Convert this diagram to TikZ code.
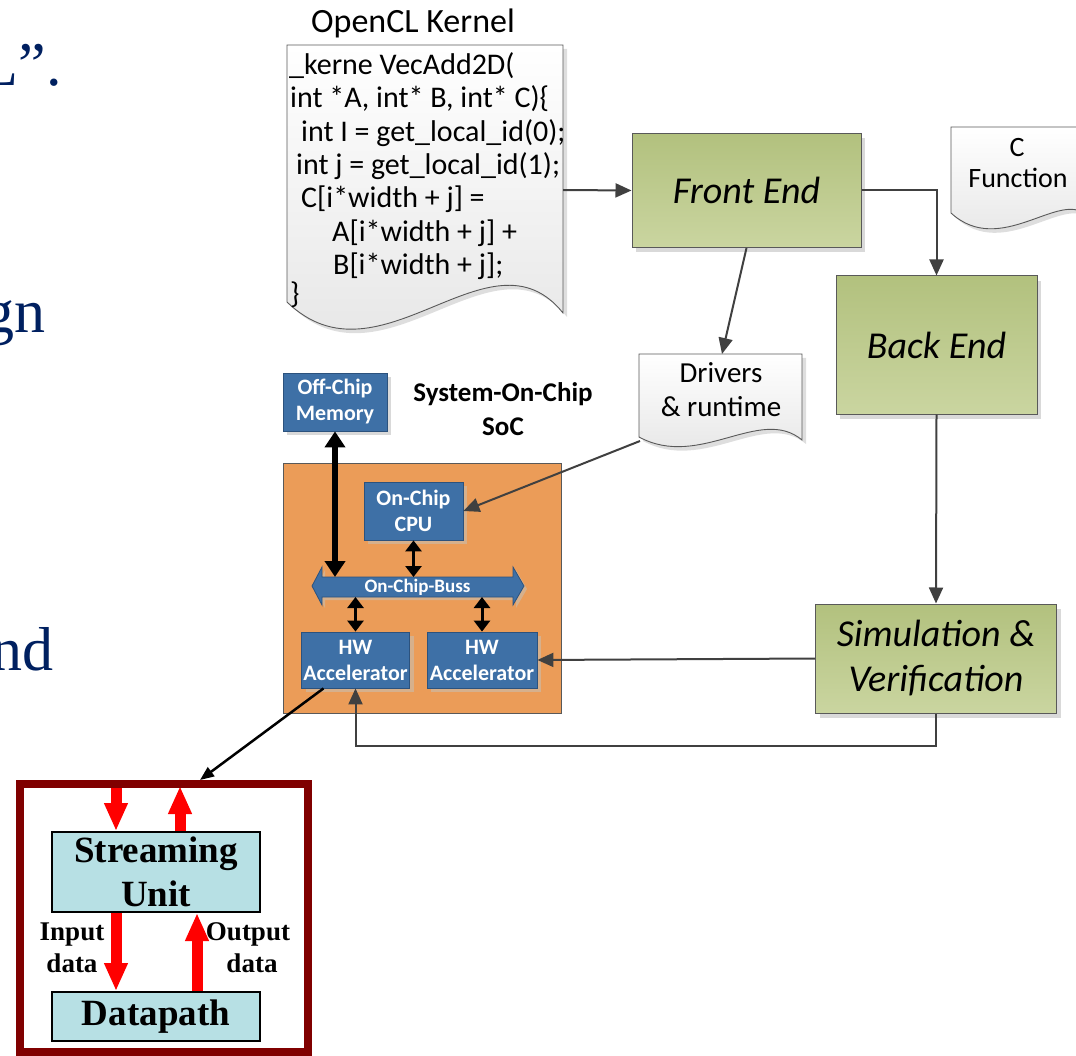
\documentclass[tikz,border=0pt]{standalone}
\usepackage{fontspec}
\setmainfont{Carlito}
\newfontfamily\tnr{Liberation Serif}
\usetikzlibrary{arrows.meta,shadows,calc}

\definecolor{navy}{RGB}{0,32,96}
\definecolor{lgray}{RGB}{64,64,64}
\definecolor{boxgray}{RGB}{89,89,89}
\definecolor{greenT}{RGB}{178,193,126}
\definecolor{greenB}{RGB}{202,213,160}
\definecolor{socorange}{RGB}{235,156,88}
\definecolor{chipblue}{RGB}{62,112,166}
\definecolor{chipedge}{RGB}{44,82,125}
\definecolor{tanshade}{RGB}{214,176,140}
\definecolor{lightcyan}{RGB}{183,224,228}
\definecolor{darkred}{RGB}{128,0,0}

\begin{document}
\begin{tikzpicture}[x=1pt,y=-1pt,
  slidetext/.style={anchor=base east, inner sep=0pt, text=navy, font=\tnr\fontsize{62}{70}\selectfont},
  codeline/.style={anchor=base west, inner sep=0pt, font=\fontsize{30}{33}\selectfont},
  doctext/.style={anchor=base, inner sep=0pt, font=\fontsize{29}{35}\selectfont},
  docbody/.style={draw=boxgray, line width=0.9pt, top color=white, bottom color=black!11},
  docshadow/.style={fill=black!13},
  greenbox/.style={draw=boxgray, line width=1pt, top color=greenT, bottom color=greenB,
    inner sep=0pt, align=center, font=\itshape\fontsize{38}{45}\selectfont,
    drop shadow={shadow xshift=4pt, shadow yshift=-5pt, fill=black!15, opacity=1}},
  chipbox/.style={draw=chipedge, line width=0.8pt, fill=chipblue, text=white,
    inner sep=0pt, align=center, font=\bfseries\fontsize{22}{26}\selectfont,
    drop shadow={shadow xshift=4pt, shadow yshift=-4pt, fill=tanshade, opacity=1}},
  unitbox/.style={draw=black, line width=2pt, fill=lightcyan, inner sep=0pt, align=center,
    font=\tnr\bfseries\fontsize{37}{44}\selectfont},
  flow/.style={draw=lgray, line width=2pt, -{Triangle[length=16pt,width=14pt]}},
  membus/.style={draw=black, line width=6pt, {Triangle[length=16pt,width=20pt]}-{Triangle[length=16pt,width=20pt]}},
  busarrow/.style={draw=black, line width=3pt, {Triangle[length=11pt,width=16pt]}-{Triangle[length=11pt,width=16pt]}},
  streamarrow/.style={draw=red, line width=11pt, -{Triangle[length=28pt,width=22pt]}},
  portarrow/.style={draw=black, line width=2.5pt, -{Triangle[length=14pt,width=11pt]}},
  datalabel/.style={anchor=base, inner sep=0pt, font=\tnr\bfseries\fontsize{27}{31}\selectfont}]

\useasboundingbox (0,0) rectangle (1076,1056);

% ---- fragments of slide text at the left edge
\node[slidetext] (slideA) at (62,86) {L”.};
\node[slidetext] (slideB) at (46,333) {gn};
\node[slidetext] (slideC) at (54,670) {nd};

% ---- OpenCL kernel document
\node[anchor=base, inner sep=0pt, font=\fontsize{34}{40}\selectfont] (kerneltitle) at (413,33) {OpenCL Kernel};
\path[docshadow] (291,49) -- (567,49) -- (567,317) .. controls (494,226) and (384,396) .. (291,306) -- cycle;
\path[docbody] (287,45) -- (563,45) -- (563,313) .. controls (490,222) and (380,392) .. (287,302) -- cycle;
\node[codeline] (k1) at (289,75) {\_kerne VecAdd2D(};
\node[codeline] (k2) at (290,108) {int *A, int* B, int* C)\{};
\node[codeline] (k3) at (301,141.5) {int I = get\_local\_id(0);};
\node[codeline] (k4) at (296,175) {int j = get\_local\_id(1);};
\node[codeline] (k5) at (301,208) {C[i*width + j] =};
\node[codeline] (k6) at (332,241.5) {A[i*width + j] +};
\node[codeline] (k7) at (333,275) {B[i*width + j];};
\node[codeline] (k8) at (290,304) {\}};
\coordinate (kernelE) at (563,190);

% ---- C function document (runs past the right edge)
\path[docshadow] (955,131) -- (1090,131) -- (1090,219) .. controls (1064,194) and (1004,262) .. (955,217) -- cycle;
\path[docbody] (951,127) -- (1086,127) -- (1086,215) .. controls (1060,190) and (1000,258) .. (951,213) -- cycle;
\node[doctext, font=\fontsize{28}{34}\selectfont] (cfunA) at (1017,157) {C};
\node[doctext, font=\fontsize{28}{34}\selectfont] (cfunB) at (1018,188) {Function};

% ---- drivers document
\path[docshadow] (643,358) -- (806,358) -- (806,444) .. controls (764,409) and (704,474) .. (643,441) -- cycle;
\path[docbody] (639,354) -- (802,354) -- (802,440) .. controls (760,405) and (700,470) .. (639,437) -- cycle;
\node[doctext] (drvA) at (721,382) {Drivers};
\node[doctext] (drvB) at (721,417) {\& runtime};
\coordinate (drvN) at (722,354);
\coordinate (drvSW) at (640,441);

% ---- tool-flow stages
\node[greenbox, minimum width=229pt, minimum height=114pt] (fe) at (746.5,190.5) {Front End};
\node[greenbox, minimum width=201pt, minimum height=138pt] (be) at (936.5,345) {Back End};
\node[greenbox, minimum width=241pt, minimum height=109pt] (sim) at (936,658.5) {Simulation \&\\Verification};

% ---- system on chip
\node[anchor=base, inner sep=0pt, font=\bfseries\fontsize{27}{32}\selectfont] (socA) at (503,402) {System-On-Chip};
\node[anchor=base, inner sep=0pt, font=\bfseries\fontsize{27}{32}\selectfont] (socB) at (503,435) {SoC};
\node[draw=boxgray, line width=0.9pt, fill=socorange, minimum width=278pt, minimum height=250pt, inner sep=0pt] (soc) at (422,588) {};

\node[chipbox, minimum width=104pt, minimum height=58pt,
  drop shadow={shadow xshift=4pt, shadow yshift=-4pt, fill=black!15, opacity=1}] (mem) at (335,402) {Off-Chip\\Memory};
\node[chipbox, minimum width=99pt, minimum height=58pt] (cpu) at (413.5,511) {On-Chip\\CPU};
\node[chipbox, minimum width=108pt, minimum height=56pt] (hw1) at (355.5,660) {HW\\Accelerator};
\node[chipbox, minimum width=110pt, minimum height=56pt] (hw2) at (482,660) {HW\\Accelerator};

% on-chip bus drawn as a double arrow
\path[fill=tanshade] (315,589) -- (325,570) -- (325,580) -- (516,580) -- (516,570) -- (527,589) -- (516,608) -- (516,600) -- (325,600) -- (325,608) -- cycle;
\path[fill=chipblue, draw=chipedge, line width=0.8pt] (312,586) -- (322,567) -- (322,577) -- (513,577) -- (513,567) -- (524,586) -- (513,605) -- (513,597) -- (322,597) -- (322,605) -- cycle;
\node[inner sep=0pt, minimum width=191pt, minimum height=20pt, outer sep=0pt, text=white,
  font=\bfseries\fontsize{19}{22}\selectfont] (bus) at (417.5,587) {On-Chip-Buss};

\draw[membus] (mem.south) -- (mem.south |- bus.north);
\draw[busarrow] (cpu.south) -- (cpu.south |- bus.north);
\draw[busarrow] (bus.south -| hw1.north) -- (hw1.north);
\draw[busarrow] (bus.south -| hw2.north) -- (hw2.north);

% ---- flow connectors
\draw[flow] (kernelE) -- (fe.west);
\draw[flow] (fe.east) -| (be.north);
\draw[flow] (fe.south) -- (drvN);
\draw[flow] (drvSW) -- (cpu.east);
\draw[flow] (be.south) -- (sim.north);
\draw[flow] (sim.west) -- (hw2.east);
\draw[flow] (sim.south) -- ++(0,32) -| (hw1.south);

% ---- accelerator detail
\node[unitbox, minimum width=208pt, minimum height=80pt] (su) at (156,872) {Streaming\\Unit};
\node[unitbox, minimum width=208pt, minimum height=49pt] (dp) at (156,1016.5) {\raisebox{-3pt}{Datapath}};

\draw[streamarrow] ($(su.north)+(-40,-45)$) -- ($(su.north)+(-40,0)$);
\draw[streamarrow] ($(su.north)+(24,0)$) -- ($(su.north)+(24,-45)$);
\draw[streamarrow] ($(su.south)+(-40,0)$) -- ($(dp.north)+(-40,0)$);
\draw[streamarrow] ($(dp.north)+(41,0)$) -- ($(su.south)+(41,0)$);

\node[datalabel] (inA) at (72,940) {Input};
\node[datalabel] (inB) at (72,972) {data};
\node[datalabel] (outA) at (248,940) {Output};
\node[datalabel] (outB) at (252,972) {data};

\node[draw=darkred, line width=8pt, minimum width=288pt, minimum height=268pt, inner sep=0pt] (frame) at (164,918) {};

\draw[portarrow] ($(hw1.south)+(-32,0)$) -- ($(frame.north)+(36,0)$);

\end{tikzpicture}
\end{document}
